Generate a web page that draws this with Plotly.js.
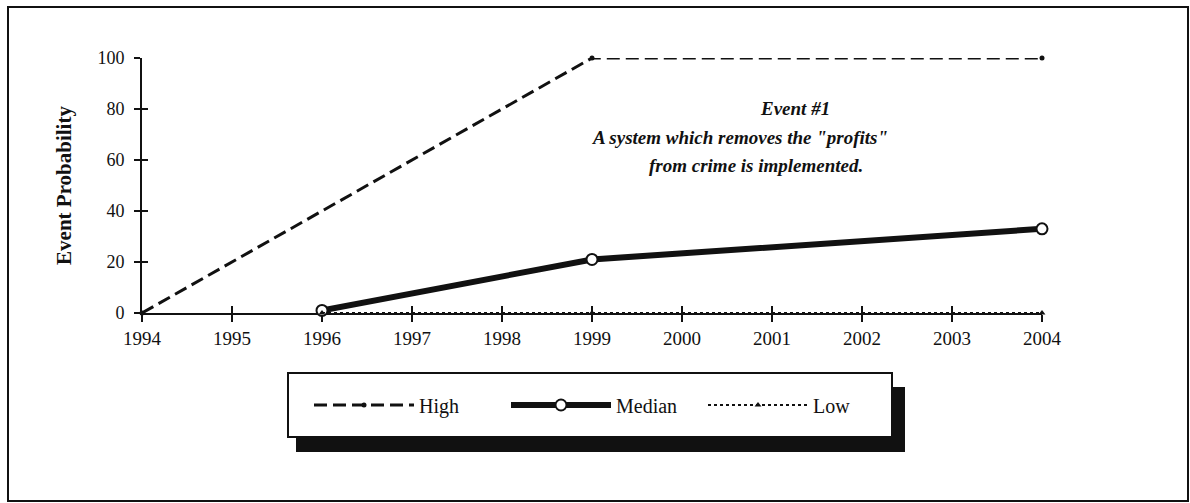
<!DOCTYPE html>
<html>
<head>
<meta charset="utf-8">
<script src="https://cdn.plot.ly/plotly-3.0.1.min.js"></script>
<style>html,body{margin:0;padding:0;background:#fff;}#chart{width:1190px;height:503px;}</style>
</head>
<body>
<div id="chart"></div>
<script>
// ---- data ----
var highYears = [1994, 1999, 2004];
var highValues = [0, 100, 100];
var medianYears = [1996, 1999, 2004];
var medianValues = [1, 21, 33];
var lowYears = [1996, 1999, 2004];
var lowValues = [0, 0, 0];
var seriesNames = ["High", "Median", "Low"];
var yTitle = "Event Probability";
var noteLines = ["Event #1", "A system which removes the \"profits\"", "from crime is implemented."];

// ---- layout helpers (pixel -> paper) ----
var ML = 142, MR = 148, MT = 58, MB = 190, W = 1190, H = 503;
var PW = W - ML - MR, PH = H - MT - MB;
function px(x) { return (x - ML) / PW; }
function py(y) { return (H - MB - y) / PH; }

var serif = "Liberation Serif, Times New Roman, serif";
var noteFont = {family: serif, size: 19, color: "#111", style: "italic", weight: "bold"};

var traces = [
  {
    x: highYears, y: highValues, name: seriesNames[0], type: "scatter", mode: "lines+markers",
    line: {color: "#111", width: 3, dash: "13px,6px"},
    marker: {symbol: "circle", size: 5, color: "#111"},
    cliponaxis: false, xaxis: "x", yaxis: "y"
  },
  {
    x: medianYears, y: medianValues, name: seriesNames[1], type: "scatter", mode: "lines+markers",
    line: {color: "#111", width: 6},
    marker: {symbol: "circle", size: 11, color: "#fff", line: {color: "#111", width: 2}},
    cliponaxis: false, xaxis: "x", yaxis: "y"
  },
  {
    x: lowYears, y: lowValues, name: seriesNames[2], type: "scatter", mode: "lines+markers",
    line: {color: "#111", width: 2, dash: "dot"},
    marker: {symbol: "triangle-up", size: 6, color: "#111"},
    cliponaxis: false, xaxis: "x2", yaxis: "y2"
  }
];

var axisCommon = {showgrid: false, zeroline: false};

var layout = {
  width: W, height: H,
  margin: {l: ML, r: MR, t: MT, b: MB, pad: 0},
  paper_bgcolor: "#fff", plot_bgcolor: "#fff",
  font: {family: serif, color: "#111"},
  showlegend: true,
  xaxis: Object.assign({}, axisCommon, {
    range: [1994, 2004], tick0: 1994, dtick: 1,
    ticks: "outside", ticklen: 7, tickwidth: 2, tickcolor: "#111",
    showline: true, linewidth: 2, linecolor: "#111",
    tickfont: {family: serif, size: 19, color: "#111"},
    ticklabelstandoff: 0,
    layer: "below traces"
  }),
  xaxis2: Object.assign({}, axisCommon, {
    overlaying: "x", anchor: "y",
    range: [1994, 2004], tick0: 1994, dtick: 1,
    ticks: "inside", ticklen: 7, tickwidth: 2, tickcolor: "#111",
    showline: false, showticklabels: false,
    layer: "below traces"
  }),
  yaxis: Object.assign({}, axisCommon, {
    range: [0, 100], tick0: 0, dtick: 20,
    ticks: "outside", ticklen: 6, tickwidth: 2, tickcolor: "#111",
    showline: true, linewidth: 2, linecolor: "#111",
    tickfont: {family: serif, size: 18, color: "#111"},
    ticklabelstandoff: 6,
    title: {text: yTitle, font: {family: serif, size: 21, color: "#111", weight: "bold"}, standoff: 20},
    layer: "below traces"
  }),
  yaxis2: Object.assign({}, axisCommon, {
    overlaying: "y", anchor: "x", side: "left",
    range: [0, 100], tick0: 0, dtick: 20,
    ticks: "inside", ticklen: 6, tickwidth: 2, tickcolor: "#111",
    showline: false, showticklabels: false,
    layer: "below traces"
  }),
  legend: {
    orientation: "h",
    x: px(309), xanchor: "left",
    y: py(405), yanchor: "middle",
    bgcolor: "rgba(0,0,0,0)", borderwidth: 0,
    itemwidth: 100,
    entrywidth: 82, entrywidthmode: "pixels",
    font: {family: serif, size: 20, color: "#111"},
    itemclick: false, itemdoubleclick: false
  },
  shapes: [
    {type: "rect", xref: "paper", yref: "paper", x0: px(8), x1: px(1188), y0: py(7), y1: py(501),
     line: {color: "#111", width: 2}, fillcolor: "rgba(0,0,0,0)", layer: "below"},
    {type: "rect", xref: "paper", yref: "paper", x0: px(296), x1: px(905), y0: py(387), y1: py(452),
     line: {width: 0}, fillcolor: "#111", layer: "above"},
    {type: "rect", xref: "paper", yref: "paper", x0: px(288), x1: px(892), y0: py(373), y1: py(437),
     line: {color: "#111", width: 2}, fillcolor: "#fff", layer: "above"}
  ],
  annotations: [
    {text: noteLines[0], xref: "paper", yref: "paper", x: px(795), y: py(108), showarrow: false,
     xanchor: "center", yanchor: "middle", font: noteFont},
    {text: noteLines[1], xref: "paper", yref: "paper", x: px(740), y: py(137), showarrow: false,
     xanchor: "center", yanchor: "middle", font: noteFont},
    {text: noteLines[2], xref: "paper", yref: "paper", x: px(756), y: py(165), showarrow: false,
     xanchor: "center", yanchor: "middle", font: noteFont}
  ]
};

Plotly.newPlot("chart", traces, layout, {displayModeBar: false});
</script>
</body>
</html>
